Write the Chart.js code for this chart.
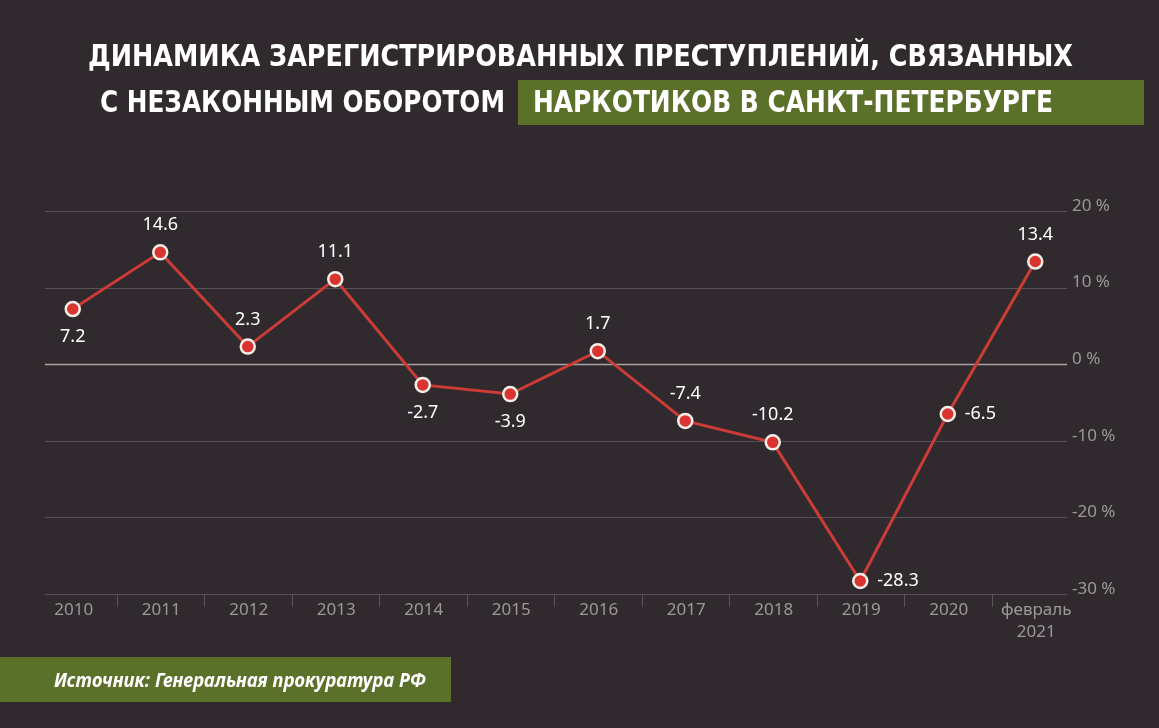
<!DOCTYPE html>
<html>
<head>
<meta charset="utf-8">
<script src="https://cdn.jsdelivr.net/npm/chart.js@4/dist/chart.umd.min.js"></script>
<style>
  html, body { margin: 0; padding: 0; background: #302a2f; }
  #wrap { width: 1159px; height: 728px; position: relative; }
</style>
</head>
<body>
<div id="wrap"><canvas id="c" width="1159" height="728"></canvas></div>
<script>
// ---- data ----
const categories = ['2010', '2011', '2012', '2013', '2014', '2015', '2016', '2017', '2018', '2019', '2020', ['февраль', '2021']];
const values = [7.2, 14.6, 2.3, 11.1, -2.7, -3.9, 1.7, -7.4, -10.2, -28.3, -6.5, 13.4];
const yTickValues = [20, 10, 0, -10, -20, -30];
const yTickLabels = ['20 %', '10 %', '0 %', '-10 %', '-20 %', '-30 %'];
const labelSide = ['below', 'above', 'above', 'above', 'below', 'below', 'above', 'above', 'above', 'right', 'right', 'above'];
const titleLine1 = 'ДИНАМИКА ЗАРЕГИСТРИРОВАННЫХ ПРЕСТУПЛЕНИЙ, СВЯЗАННЫХ';
const titleLine2a = 'С НЕЗАКОННЫМ ОБОРОТОМ';
const titleLine2b = 'НАРКОТИКОВ В САНКТ-ПЕТЕРБУРГЕ';
const sourceText = 'Источник: Генеральная прокуратура РФ';

const BG = '#302a2f';
const GREEN = '#5b7029';
const GRID = '#595358';
const ZERO = '#a9a3a6';
const TICK = '#9d979a';

function fitText(ctx, text, x, y, width, font, color) {
  ctx.save();
  ctx.font = font;
  ctx.fillStyle = color;
  ctx.textBaseline = 'alphabetic';
  ctx.textAlign = 'left';
  const w = ctx.measureText(text).width;
  ctx.translate(x, y);
  ctx.scale(width / w, 1);
  ctx.fillText(text, 0, 0);
  ctx.restore();
}

const decor = {
  id: 'decor',
  beforeDraw(chart) {
    const ctx = chart.ctx;
    const xs = chart.scales.x, ys = chart.scales.y;
    ctx.save();
    ctx.fillStyle = BG;
    ctx.fillRect(0, 0, chart.width, chart.height);

    // title
    const tf = 'bold 30px "DejaVu Sans Condensed", "Liberation Sans Narrow", "DejaVu Sans", sans-serif';
    fitText(ctx, titleLine1, 88, 66, 985, tf, '#ffffff');
    fitText(ctx, titleLine2a, 100, 112, 405, tf, '#ffffff');
    ctx.fillStyle = GREEN;
    ctx.fillRect(518, 80, 626, 45);
    fitText(ctx, titleLine2b, 533, 112, 520, tf, '#ffffff');

    // source box
    ctx.fillStyle = GREEN;
    ctx.fillRect(0, 657, 451, 45);
    fitText(ctx, sourceText, 54, 687, 372, 'italic bold 19px "Noto Sans", "Open Sans", sans-serif', '#ffffff');

    // horizontal grid
    const gx0 = 45, gx1 = 1067;
    yTickValues.forEach(v => {
      const y = Math.round(ys.getPixelForValue(v)) + 0.5;
      ctx.beginPath();
      ctx.strokeStyle = v === 0 ? ZERO : GRID;
      ctx.lineWidth = v === 0 ? 1.6 : 1;
      ctx.moveTo(gx0, y);
      ctx.lineTo(gx1, y);
      ctx.stroke();
    });

    // y tick labels
    ctx.font = '17px "Noto Sans", "Open Sans", sans-serif';
    ctx.fillStyle = TICK;
    ctx.textAlign = 'left';
    ctx.textBaseline = 'middle';
    yTickValues.forEach((v, i) => {
      ctx.fillText(yTickLabels[i], 1072, ys.getPixelForValue(v) - 5);
    });

    // x category separators
    const yb = ys.getPixelForValue(-30);
    ctx.strokeStyle = GRID;
    ctx.lineWidth = 1;
    for (let i = 1; i < categories.length; i++) {
      const x = Math.round((xs.getPixelForValue(i - 1) + xs.getPixelForValue(i)) / 2) + 0.5;
      ctx.beginPath();
      ctx.moveTo(x, yb);
      ctx.lineTo(x, yb + 13);
      ctx.stroke();
    }

    // x labels
    ctx.textAlign = 'center';
    ctx.textBaseline = 'middle';
    ctx.fillStyle = TICK;
    categories.forEach((c, i) => {
      const x = xs.getPixelForValue(i) + 1;
      const lines = Array.isArray(c) ? c : [c];
      lines.forEach((ln, k) => ctx.fillText(ln, x, yb + 16 + k * 22));
    });
    ctx.restore();
  },
  afterDatasetsDraw(chart) {
    const ctx = chart.ctx;
    const meta = chart.getDatasetMeta(0);
    ctx.save();
    ctx.font = '18px "Noto Sans", "Open Sans", sans-serif';
    ctx.fillStyle = '#ffffff';
    ctx.textBaseline = 'middle';
    meta.data.forEach((pt, i) => {
      const txt = String(values[i]);
      const side = labelSide[i];
      if (side === 'right') {
        ctx.textAlign = 'left';
        ctx.fillText(txt, pt.x + 17, pt.y);
      } else {
        ctx.textAlign = 'center';
        ctx.fillText(txt, pt.x, pt.y + (side === 'above' ? -27 : 28));
      }
    });
    ctx.restore();
  }
};

new Chart(document.getElementById('c'), {
  type: 'line',
  data: {
    labels: categories,
    datasets: [{
      data: values,
      borderColor: '#cc3c37',
      borderWidth: 3,
      pointRadius: 7,
      pointHoverRadius: 7,
      pointBorderWidth: 2.5,
      pointBackgroundColor: '#da3431',
      pointBorderColor: '#f6eee7',
      tension: 0,
      clip: false
    }]
  },
  options: {
    responsive: false,
    animation: false,
    layout: { padding: { left: 29, right: 80, top: 211, bottom: 134 } },
    plugins: { legend: { display: false }, tooltip: { enabled: false } },
    scales: {
      x: { type: 'category', offset: true, display: false },
      y: { min: -30, max: 20, display: false }
    }
  },
  plugins: [decor]
});
</script>
</body>
</html>
